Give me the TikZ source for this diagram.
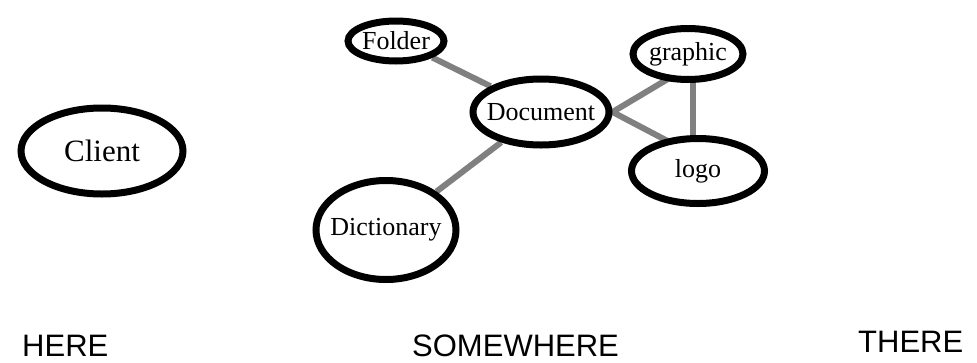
\documentclass[tikz,border=0pt]{standalone}
\usepackage{fontspec}
\setmainfont{Liberation Serif}
\setsansfont{Liberation Sans}
\usetikzlibrary{shapes,backgrounds}

\begin{document}
\begin{tikzpicture}[
    x=1pt, y=-1pt,
    blob/.style={ellipse, draw, line width=7pt, fill=white, inner sep=0pt, font=\fontsize{26}{30}\selectfont},
    link/.style={draw=gray, line width=6pt},
    place/.style={font=\sffamily\fontsize{31}{36}\selectfont, anchor=base west, inner sep=0pt}
]
    \useasboundingbox (0,0) rectangle (977,362);

    \node[blob, minimum width=162pt, minimum height=86pt, font=\fontsize{31}{36}\selectfont] (client) at (102,151) {\makebox[0pt]{Client}};
    \node[blob, minimum width=96pt, minimum height=40pt] (folder) at (396,41) {\makebox[0pt]{Folder}};
    \node[blob, minimum width=136pt, minimum height=66pt] (doc) at (541,112) {\makebox[0pt]{Document}};
    \node[blob, minimum width=110pt, minimum height=51pt] (graphic) at (688,54) {\makebox[0pt]{graphic}};
    \node[blob, minimum width=133pt, minimum height=65pt] (logo) at (698,171) {\makebox[0pt]{logo}};
    \node[blob, minimum width=140pt, minimum height=99pt] (dict) at (386,230) {\makebox[0pt]{Dictionary}};

    \node[place] (here) at (22,356) {HERE};
    \node[place] (somewhere) at (412,356) {SOMEWHERE};
    \node[place] (there) at (858,352) {THERE};

    \begin{scope}[on background layer]
    \draw[link] (folder.south east) -- (doc.north west);
    \draw[link] (doc) -- (dict);
    \draw[link] (doc.east) -- ([yshift=-13pt]graphic.center);
    \draw[link] (doc.east) -- ([yshift=14pt]logo.center);
    \draw[link] ([xshift=5pt]graphic.center) -- ([xshift=5pt]graphic.center |- logo.center);
    \end{scope}
\end{tikzpicture}
\end{document}
